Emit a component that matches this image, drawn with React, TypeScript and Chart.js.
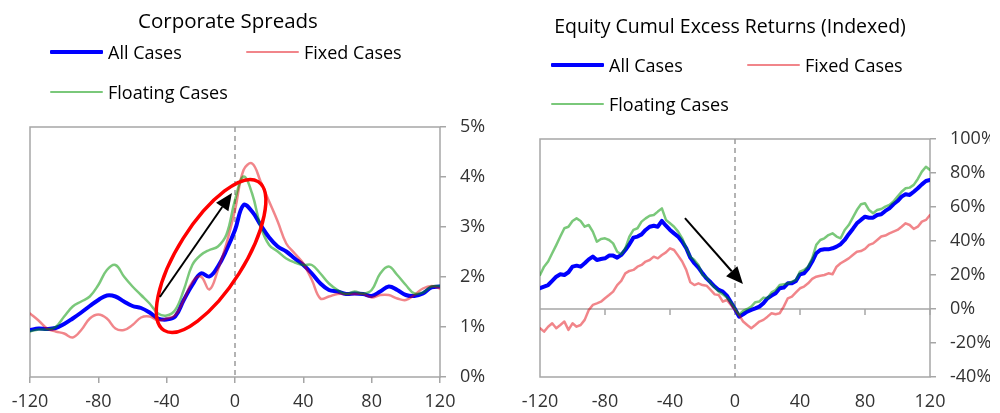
import React, { useEffect, useRef } from "react";
import { Chart, registerables } from "chart.js";

Chart.register(...registerables);

// ---------- data ----------
const spreadMonths = [
  -120, -115, -110, -105, -100, -95, -90, -85, -80, -75, -70, -65, -60, -55, -50, -45, -40, -35, -30, -25, -20, -15, -10, -5,
  0, 5, 10, 15, 20, 25, 30, 35, 40, 45, 50, 55, 60, 65, 70, 75, 80, 85, 90, 95, 100, 105, 110, 115, 120,
];

const spreadAll = [
  0.94, 0.97, 0.96, 0.98, 1.06, 1.17, 1.29, 1.42, 1.54, 1.63, 1.61, 1.51, 1.42, 1.38, 1.29, 1.17, 1.15, 1.21, 1.54, 1.84, 2.07, 2.01, 2.21, 2.54,
  2.94, 3.44, 3.31, 3.04, 2.79, 2.61, 2.51, 2.37, 2.24, 2.07, 1.87, 1.74, 1.71, 1.66, 1.67, 1.66, 1.62, 1.71, 1.81, 1.74, 1.64, 1.62, 1.67, 1.79, 1.81,
];
const spreadFixed = [
  1.27, 1.13, 0.97, 0.91, 0.87, 0.79, 0.94, 1.17, 1.25, 1.17, 0.97, 0.94, 1.04, 1.19, 1.21, 1.13, 1.17, 1.24, 1.54, 1.9, 2.01, 1.75, 2.14, 2.67,
  3.34, 4.14, 4.27, 3.91, 3.51, 3.11, 2.67, 2.47, 2.27, 1.94, 1.57, 1.61, 1.66, 1.66, 1.66, 1.66, 1.59, 1.64, 1.64, 1.57, 1.54, 1.64, 1.77, 1.82, 1.77,
];
const spreadFloating = [
  0.91, 0.95, 0.95, 1.0, 1.21, 1.41, 1.51, 1.61, 1.84, 2.14, 2.24, 2.01, 1.81, 1.64, 1.47, 1.27, 1.23, 1.34, 1.74, 2.24, 2.44, 2.54, 2.61, 2.85,
  3.54, 4.01, 3.67, 3.01, 2.64, 2.51, 2.37, 2.29, 2.24, 2.24, 2.07, 1.87, 1.74, 1.66, 1.71, 1.67, 1.74, 2.07, 2.21, 2.04, 1.84, 1.67, 1.69, 1.81, 1.82,
];

const equityMonths = [
  -120, -117.5, -115, -112.5, -110, -107.5, -105, -102.5, -100, -97.5, -95, -92.5, -90, -87.5, -85, -82.5,
  -80, -77.5, -75, -72.5, -70, -67.5, -65, -62.5, -60, -57.5, -55, -52.5, -50, -47.5, -45, -42.5,
  -40, -37.5, -35, -32.5, -30, -27.5, -25, -22.5, -20, -17.5, -15, -12.5, -10, -7.5, -5, -2.5,
  0, 2.5, 5, 7.5, 10, 12.5, 15, 17.5, 20, 22.5, 25, 27.5, 30, 32.5, 35, 37.5,
  40, 42.5, 45, 47.5, 50, 52.5, 55, 57.5, 60, 62.5, 65, 67.5, 70, 72.5, 75, 77.5,
  80, 82.5, 85, 87.5, 90, 92.5, 95, 97.5, 100, 102.5, 105, 107.5, 110, 112.5, 115, 117.5, 120,
];

const equityAll = [
  12.2, 13.2, 14.1, 16.5, 19.0, 20.4, 20.0, 21.6, 24.9, 25.5, 24.9, 26.9, 29.2, 30.8, 28.8, 29.4,
  29.8, 31.4, 31.4, 30.2, 31.8, 34.7, 38.1, 42.0, 42.6, 43.9, 46.5, 48.4, 49.0, 48.4, 51.8, 49.0,
  46.5, 44.5, 42.6, 39.6, 35.7, 30.2, 26.9, 24.3, 21.0, 18.0, 15.7, 13.2, 11.2, 10.2, 7.9, 4.0,
  0.0, -4.5, -3.1, -1.5, -0.5, 0.4, 1.4, 3.4, 6.3, 7.9, 9.3, 12.2, 12.6, 15.1, 15.1, 16.5,
  20.4, 21.0, 23.9, 27.9, 32.8, 34.7, 35.1, 35.1, 35.7, 36.7, 38.1, 40.6, 44.0, 47.1, 50.4, 52.4,
  54.3, 53.7, 53.7, 55.3, 55.7, 57.7, 59.2, 61.6, 63.5, 66.1, 67.5, 67.1, 69.0, 71.0, 73.3, 75.3, 75.9,
];
const equityFixed = [
  -11.3, -13.3, -10.4, -8.4, -11.3, -9.4, -7.4, -12.3, -8.4, -10.4, -9.4, -6.4, -0.6, 2.4, 3.3, 4.3,
  6.3, 8.2, 10.2, 14.1, 16.5, 21.0, 22.4, 23.0, 24.9, 25.9, 27.9, 28.8, 30.8, 29.8, 31.8, 33.3,
  35.7, 34.7, 31.4, 27.9, 23.0, 15.7, 14.1, 15.1, 14.1, 13.7, 11.2, 8.6, 8.2, 4.3, 5.3, 2.4,
  -0.6, -3.5, -7.4, -9.4, -11.3, -9.4, -7.4, -6.4, -4.5, -2.5, -3.1, -2.5, 1.4, 6.3, 7.3, 9.8,
  12.2, 13.2, 15.1, 17.7, 19.0, 19.6, 20.0, 21.0, 20.4, 24.9, 26.9, 28.3, 29.8, 31.8, 33.7, 34.1,
  35.3, 37.7, 38.6, 40.6, 42.6, 43.2, 44.5, 45.5, 46.5, 48.4, 50.4, 49.4, 47.1, 48.4, 51.4, 52.4, 55.3,
];
const equityFloating = [
  20.0, 24.9, 27.9, 32.8, 37.6, 42.6, 47.5, 48.4, 51.8, 53.3, 51.8, 48.4, 49.4, 45.5, 39.6, 41.2,
  41.6, 40.6, 38.6, 33.7, 32.2, 35.7, 42.6, 46.5, 47.5, 51.4, 53.3, 54.9, 55.3, 57.3, 59.2, 52.4,
  50.4, 48.4, 45.5, 41.6, 35.7, 30.8, 28.8, 25.9, 20.0, 18.5, 15.1, 12.6, 10.2, 8.6, 6.7, 4.0,
  0.4, -3.5, -1.1, 0.0, 1.4, 4.0, 4.4, 6.7, 6.3, 9.8, 11.2, 14.1, 14.5, 15.1, 16.1, 17.1,
  22.0, 23.0, 24.9, 29.8, 37.7, 40.6, 41.6, 43.5, 44.5, 42.6, 41.6, 46.5, 49.4, 53.7, 58.2, 61.6,
  62.2, 58.2, 56.3, 58.2, 58.8, 60.2, 61.2, 63.2, 66.1, 69.0, 71.0, 71.4, 73.0, 76.5, 80.8, 83.7, 81.8,
];

const xTickValues = [-120, -80, -40, 0, 40, 80, 120];
const seriesNames = ["All Cases", "Fixed Cases", "Floating Cases"];

// ---------- styles ----------
const FONT = "'Open Sans', sans-serif";
const BLUE = "#0000ff";
const RED = "rgba(225, 0, 10, 0.48)";
const GREEN = "rgba(0, 150, 0, 0.52)";
const FRAME = "#a6a6a6";
const TICK_TEXT = "#333333";

const toPoints = (xs: number[], ys: number[]) => xs.map((x, i) => ({ x, y: ys[i] }));

type Arrow = { from: [number, number]; to: [number, number] };
type Ellipse = { c: [number, number]; rx: number; ry: number; rot: number };

function framePlugin(hZero: boolean) {
  return {
    id: "frame",
    beforeDatasetsDraw(chart: any) {
      const { ctx, chartArea: a, scales } = chart;
      ctx.save();
      ctx.strokeStyle = FRAME;
      ctx.lineWidth = 1.5;
      ctx.strokeRect(a.left, a.top, a.right - a.left, a.bottom - a.top);
      if (hZero) {
        const y0 = scales.y.getPixelForValue(0);
        ctx.beginPath();
        ctx.moveTo(a.left, y0);
        ctx.lineTo(a.right, y0);
        xTickValues.forEach((v) => {
          if (v === 0 || v === -120) return;
          const px = scales.x.getPixelForValue(v);
          ctx.moveTo(px, y0);
          ctx.lineTo(px, y0 + 6);
        });
        ctx.stroke();
      }
      const x0 = scales.x.getPixelForValue(0);
      ctx.setLineDash([5, 4]);
      ctx.strokeStyle = "#9a9a9a";
      ctx.beginPath();
      ctx.moveTo(x0, a.top);
      ctx.lineTo(x0, a.bottom);
      ctx.stroke();
      ctx.restore();
    },
  };
}

function annotPlugin(arrow: Arrow, ellipse?: Ellipse) {
  return {
    id: "annot",
    afterDatasetsDraw(chart: any) {
      const { ctx, scales } = chart;
      const px = (v: number) => scales.x.getPixelForValue(v);
      const py = (v: number) => scales.y.getPixelForValue(v);
      ctx.save();
      if (ellipse) {
        ctx.strokeStyle = "#ff0000";
        ctx.lineWidth = 3.5;
        ctx.beginPath();
        ctx.ellipse(px(ellipse.c[0]), py(ellipse.c[1]), ellipse.rx, ellipse.ry, ellipse.rot, 0, Math.PI * 2);
        ctx.stroke();
      }
      const x1 = px(arrow.from[0]);
      const y1 = py(arrow.from[1]);
      const x2 = px(arrow.to[0]);
      const y2 = py(arrow.to[1]);
      const ang = Math.atan2(y2 - y1, x2 - x1);
      const headLen = 17;
      const headW = 7.5;
      const bx = x2 - headLen * Math.cos(ang);
      const by = y2 - headLen * Math.sin(ang);
      ctx.strokeStyle = "#000";
      ctx.fillStyle = "#000";
      ctx.lineWidth = 2;
      ctx.beginPath();
      ctx.moveTo(x1, y1);
      ctx.lineTo(bx, by);
      ctx.stroke();
      ctx.beginPath();
      ctx.moveTo(x2, y2);
      ctx.lineTo(bx + headW * Math.sin(ang), by - headW * Math.cos(ang));
      ctx.lineTo(bx - headW * Math.sin(ang), by + headW * Math.cos(ang));
      ctx.closePath();
      ctx.fill();
      ctx.restore();
    },
  };
}

type PanelProps = {
  xs: number[];
  all: number[];
  fixed: number[];
  floating: number[];
  yMin: number;
  yMax: number;
  yStep: number;
  padding: { left: number; top: number; right: number; bottom: number };
  yWidth: number;
  smooth: boolean;
  hZero: boolean;
  bottomTicks: boolean;
  arrow: Arrow;
  ellipse?: Ellipse;
};

function ChartPanel(p: PanelProps) {
  const ref = useRef<HTMLCanvasElement | null>(null);
  useEffect(() => {
    if (!ref.current) return;
    const tension = p.smooth ? 0.4 : 0;
    const chart = new Chart(ref.current, {
      type: "line",
      data: {
        datasets: [
          { label: seriesNames[0], data: toPoints(p.xs, p.all), borderColor: BLUE, borderWidth: 4, order: 2, tension },
          { label: seriesNames[1], data: toPoints(p.xs, p.fixed), borderColor: RED, borderWidth: 2.5, order: 1, tension },
          { label: seriesNames[2], data: toPoints(p.xs, p.floating), borderColor: GREEN, borderWidth: 2.5, order: 0, tension },
        ],
      },
      options: {
        animation: false,
        responsive: false,
        devicePixelRatio: 1,
        layout: { padding: p.padding },
        elements: { point: { radius: 0 }, line: { borderCapStyle: "round", borderJoinStyle: "round" } },
        plugins: { legend: { display: false }, title: { display: false }, tooltip: { enabled: false } },
        scales: {
          x: {
            type: "linear",
            min: -120,
            max: 120,
            afterBuildTicks: (s: any) => {
              s.ticks = xTickValues.map((v) => ({ value: v }));
            },
            ticks: { font: { family: FONT, size: 18 }, color: TICK_TEXT, padding: 8, maxRotation: 0, autoSkip: false },
            grid: {
              drawOnChartArea: false,
              tickLength: 6,
              color: p.bottomTicks ? FRAME : "rgba(0,0,0,0)",
              lineWidth: 1.5,
            },
            border: { display: false },
            afterFit: (s: any) => {
              s.height = 30;
            },
          },
          y: {
            position: "right",
            min: p.yMin,
            max: p.yMax,
            ticks: {
              stepSize: p.yStep,
              font: { family: FONT, size: 18 },
              color: TICK_TEXT,
              padding: 14,
              callback: (v: any) => `${v}%`,
            },
            grid: { drawOnChartArea: false, tickLength: 6, color: FRAME, lineWidth: 1.5 },
            border: { display: false },
            afterFit: (s: any) => {
              s.width = p.yWidth;
            },
          },
        },
      },
      plugins: [framePlugin(p.hZero), annotPlugin(p.arrow, p.ellipse)],
    } as any);
    return () => chart.destroy();
  }, []);
  return <canvas ref={ref} width={500} height={413} style={{ display: "block" }} />;
}

type LegendItem = { label: string; color: string; width: number; x: number; y: number };

function Legend({ items }: { items: LegendItem[] }) {
  return (
    <>
      {items.map((it) => (
        <React.Fragment key={it.label}>
          <div
            style={{
              position: "absolute",
              left: it.x,
              top: it.y - it.width / 2,
              width: 53,
              height: it.width,
              background: it.color,
              borderRadius: 1,
            }}
          />
          <div
            style={{
              position: "absolute",
              left: it.x + 58,
              top: it.y - 13,
              lineHeight: "26px",
              fontFamily: FONT,
              fontSize: 18,
              color: "#000",
              whiteSpace: "nowrap",
            }}
          >
            {it.label}
          </div>
        </React.Fragment>
      ))}
    </>
  );
}

function Title({ text, cx, cy, size }: { text: string; cx: number; cy: number; size: number }) {
  return (
    <div
      style={{
        position: "absolute",
        left: cx - 300,
        width: 600,
        top: cy - 14,
        lineHeight: "28px",
        textAlign: "center",
        fontFamily: FONT,
        fontSize: size,
        color: "#000",
        whiteSpace: "nowrap",
      }}
    >
      {text}
    </div>
  );
}

export default function App() {
  return (
    <div style={{ position: "fixed", left: 0, top: 0, width: 1000, height: 413, background: "#fff", overflow: "hidden" }}>
      <div style={{ position: "absolute", left: 0, top: 0, width: 500, height: 413 }}>
        <ChartPanel
          xs={spreadMonths}
          all={spreadAll}
          fixed={spreadFixed}
          floating={spreadFloating}
          yMin={0}
          yMax={5}
          yStep={1}
          padding={{ left: 30, top: 127, right: 10, bottom: 6 }}
          yWidth={50}
          smooth={true}
          hZero={false}
          bottomTicks={true}
          arrow={{ from: [-44, 1.6], to: [-1.8, 3.68] }}
          ellipse={{ c: [-14, 2.42], rx: 88, ry: 33, rot: -1.007 }}
        />
        <Title text="Corporate Spreads" cx={228} cy={20} size={20.5} />
        <Legend
          items={[
            { label: seriesNames[0], color: BLUE, width: 4, x: 50, y: 52 },
            { label: seriesNames[1], color: RED, width: 2.5, x: 246, y: 52 },
            { label: seriesNames[2], color: GREEN, width: 2.5, x: 50, y: 92 },
          ]}
        />
      </div>
      <div style={{ position: "absolute", left: 500, top: 0, width: 500, height: 413 }}>
        <ChartPanel
          xs={equityMonths}
          all={equityAll}
          fixed={equityFixed}
          floating={equityFloating}
          yMin={-40}
          yMax={100}
          yStep={20}
          padding={{ left: 40, top: 139, right: 10, bottom: 6 }}
          yWidth={60}
          smooth={false}
          hZero={true}
          bottomTicks={false}
          arrow={{ from: [-30.8, 53.5], to: [4.9, 14.7] }}
        />
        <Title text="Equity Cumul Excess Returns (Indexed)" cx={230} cy={26} size={19.5} />
        <Legend
          items={[
            { label: seriesNames[0], color: BLUE, width: 4, x: 51, y: 65 },
            { label: seriesNames[1], color: RED, width: 2.5, x: 247, y: 65 },
            { label: seriesNames[2], color: GREEN, width: 2.5, x: 51, y: 104 },
          ]}
        />
      </div>
    </div>
  );
}
